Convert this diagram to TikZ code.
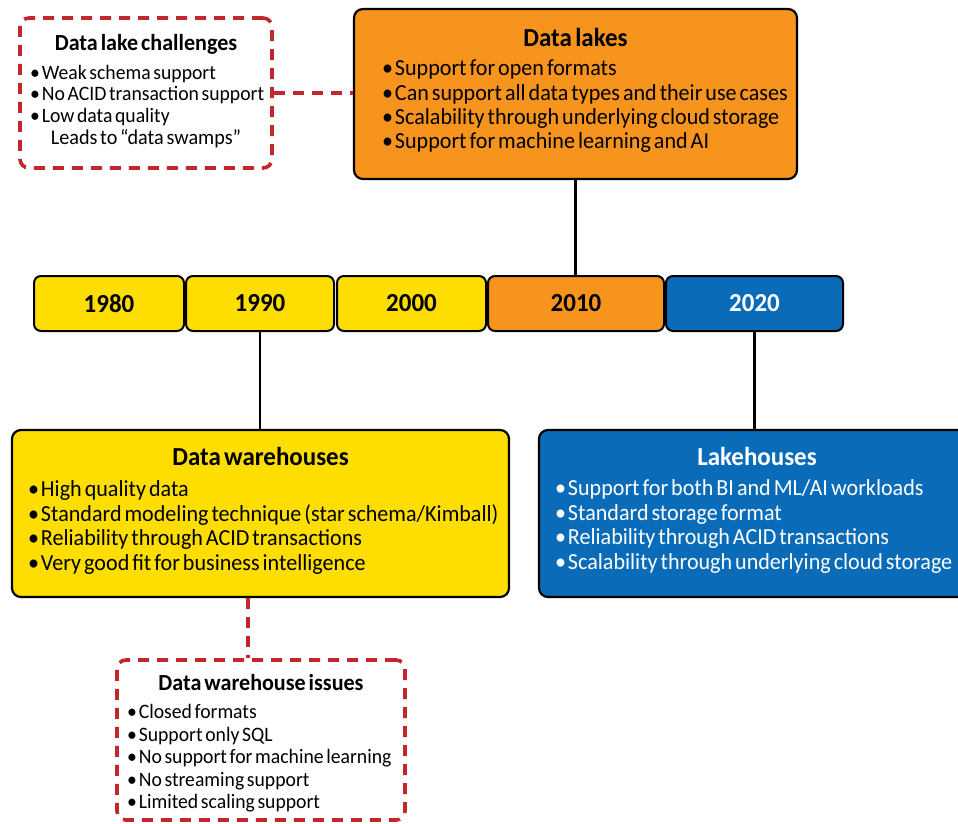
\documentclass[tikz,border=0pt]{standalone}
\usepackage{fontspec}
\setmainfont{Carlito}[FakeStretch=0.96]
\usetikzlibrary{positioning}
\definecolor{dlyellow}{HTML}{FEDD00}
\definecolor{dlorange}{HTML}{F7941D}
\definecolor{dlblue}{HTML}{0A6CB9}
\definecolor{dlred}{HTML}{C1272D}
\newcommand{\itm}[1]{\mbox{\textbullet\hspace{2pt}#1}}
\newcommand{\tight}{\spaceskip=0.13em\xspaceskip=0.13em}
\newcommand{\botpad}[1]{\par\vskip#1\hrule height 0pt width 0pt}
\tikzset{
  solidbox/.style={draw=black, line width=2.2pt, rounded corners=9pt, anchor=center, inner ysep=0pt},
  dashbox/.style={draw=dlred, line width=3.6pt, dash pattern=on 11pt off 8pt, rounded corners=9pt, anchor=center, inner ysep=0pt},
  yearbox/.style={draw=black, line width=2pt, rounded corners=7pt, minimum height=55pt, inner sep=0pt,
    font=\fontsize{26}{30}\selectfont\bfseries},
  conn/.style={draw=black, line width=2.2pt},
  dconn/.style={draw=dlred, line width=3.6pt, dash pattern=on 11pt off 8pt},
}
\begin{document}
\begin{tikzpicture}[x=1pt,y=-1pt]
\clip (0,0) rectangle (958,823);
\fill[white] (0,0) rectangle (958,823);

% Data lakes
\node[solidbox, fill=dlorange, minimum width=443pt, minimum height=170pt, inner xsep=28pt, text width=387pt,
  font=\fontsize{23}{24.3}\selectfont] (lakes) at (575.5,94)
  {{\centering\fontsize{26}{26}\selectfont\bfseries\tight Data lakes\par}\vspace*{5pt}\raggedright\tight
   \itm{Support for open formats}\\
   \itm{Can support all data types and their use cases}\\
   \itm{Scalability through underlying cloud storage}\\
   \itm{Support for machine learning and AI}\botpad{7pt}};

% Data lake challenges
\node[dashbox, fill=white, minimum width=252pt, minimum height=150pt, inner xsep=10pt, text width=232pt,
  font=\fontsize{20.5}{21.7}\selectfont] (chal) at (146,93)
  {{\centering\fontsize{23}{25}\selectfont\bfseries\tight Data lake challenges\par}\vspace*{7.5pt}\raggedright\tight
   \itm{Weak schema support}\\
   \itm{No ACID transaction support}\\
   \itm{Low data quality}\par
   {\centering\fontsize{21}{22}\selectfont\tight Leads to “data swamps”\par}\botpad{4pt}};

% Timeline
\node[yearbox, fill=dlyellow, minimum width=150pt] (y1980) at (109,303.5) {1980};
\node[yearbox, fill=dlyellow, minimum width=148pt] (y1990) at (260,303.5) {1990};
\node[yearbox, fill=dlyellow, minimum width=149pt] (y2000) at (411.5,303.5) {2000};
\node[yearbox, fill=dlorange, minimum width=176pt] (y2010) at (576,303.5) {2010};
\node[yearbox, fill=dlblue, text=white, minimum width=177pt] (y2020) at (754.5,303.5) {2020};

% Data warehouses
\node[solidbox, fill=dlyellow, minimum width=497pt, minimum height=167pt, inner xsep=16pt, text width=465pt,
  font=\fontsize{23}{24.5}\selectfont] (wh) at (260.5,513.5)
  {{\centering\fontsize{26}{30}\selectfont\bfseries\tight Data warehouses\par}\vspace*{6.5pt}\raggedright\tight
   \itm{High quality data}\\
   \itm{Standard modeling technique (star schema/Kimball)}\\
   \itm{Reliability through ACID transactions}\\
   \itm{Very good fit for business intelligence}\botpad{5pt}};

% Lakehouses
\node[solidbox, fill=dlblue, text=white, minimum width=436pt, minimum height=167pt, inner xsep=16pt, text width=404pt,
  font=\fontsize{23}{24.5}\selectfont] (lh) at (757,513.5)
  {{\centering\fontsize{26}{30}\selectfont\bfseries\tight Lakehouses\par}\vspace*{5.5pt}\raggedright\tight
   \itm{Support for both BI and ML/AI workloads}\\
   \itm{Standard storage format}\\
   \itm{Reliability through ACID transactions}\\
   \itm{Scalability through underlying cloud storage}\botpad{6pt}};

% Data warehouse issues
\node[dashbox, fill=white, minimum width=288pt, minimum height=160pt, inner xsep=10pt, text width=268pt,
  font=\fontsize{20.5}{22.5}\selectfont] (iss) at (261,740)
  {{\centering\fontsize{23}{25}\selectfont\bfseries\tight Data warehouse issues\par}\vspace*{6pt}\raggedright\tight
   \itm{Closed formats}\\
   \itm{Support only SQL}\\
   \itm{No support for machine learning}\\
   \itm{No streaming support}\\
   \itm{Limited scaling support}\botpad{-6pt}};

% Connectors
\draw[dconn] (chal.east) -- (chal.east -| lakes.west);
\draw[conn] (lakes.south) -- (lakes.south |- y2010.north);
\draw[conn] (y1990.south) -- (y1990.south |- wh.north);
\draw[conn] (y2020.south) -- (y2020.south |- lh.north);
\draw[dconn] ([xshift=-12.5pt]wh.south) -- ([xshift=-12.5pt]wh.south |- iss.north);
\end{tikzpicture}
\end{document}
